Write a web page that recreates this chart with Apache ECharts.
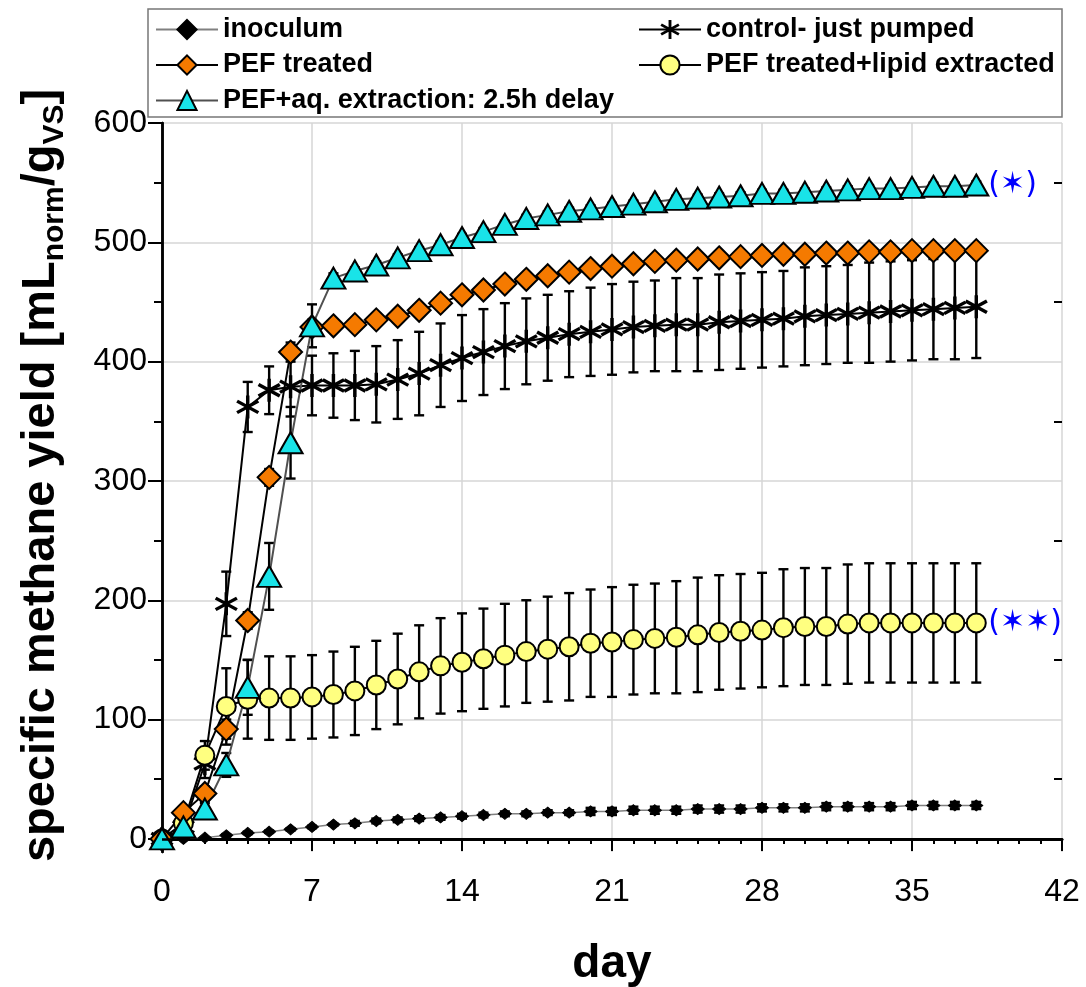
<!DOCTYPE html>
<html>
<head>
<meta charset="utf-8">
<script src="https://cdn.jsdelivr.net/npm/echarts@6/dist/echarts.min.js"></script>
<style>
html, body { margin: 0; padding: 0; background: #fff; }
#main { width: 1086px; height: 987px; }
</style>
</head>
<body>
<div id="main"></div>
<script>
// data (day, mL/g VS), errors are +/- half bar length
var days = [0,1,2,3,4,5,6,7,8,9,10,11,12,13,14,15,16,17,18,19,20,21,22,23,24,25,26,27,28,29,30,31,32,33,34,35,36,37,38];

var inoculum    = [0,0,1,3,5,6,8,10,12,13,15,16,17,18,19,20,21,21,22,22,23,23,24,24,24,25,25,25,26,26,26,27,27,27,27,28,28,28,28];
var inoculumErr = [0,0,0,1,1,1,1,1,1,2,2,2,2,2,2,2,2,2,2,2,3,3,3,3,3,3,3,3,3,3,3,3,3,3,3,3,3,3,3];

var control    = [0,10,63,197,362,376,379,380,380,380,381,385,390,397,403,408,413,417,420,423,425,427,429,430,431,431,433,434,435,436,438,439,440,441,442,443,444,445,446];
var controlErr = [0,3,12,27,21,20,25,25,27,29,32,33,35,35,36,36,36,36,36,36,37,38,38,38,39,39,40,40,40,40,41,41,41,42,42,42,42,43,43];

var pef    = [0,22,38,92,183,303,408,429,430,431,435,438,443,449,456,460,465,469,472,475,478,480,482,484,485,486,487,488,489,490,490,491,491,492,492,493,493,493,493];
var pefErr = [0,5,6,8,7,7,8,6,5,5,5,5,5,5,5,5,5,5,5,5,5,5,5,5,5,5,5,5,5,5,5,5,5,5,5,5,5,5,5];

var lipid    = [0,13,70,111,117,118,118,119,121,124,129,134,140,145,148,151,154,157,159,161,164,165,167,168,169,171,173,174,175,177,178,178,180,181,181,181,181,181,181];
var lipidErr = [0,5,12,32,33,35,35,35,36,37,37,38,39,40,41,42,43,43,44,45,45,46,46,46,47,48,48,48,48,49,49,49,50,50,50,50,50,50,50];

var aq    = [0,10,25,62,127,220,332,430,470,476,481,487,493,498,504,509,515,520,523,526,528,530,532,534,536,537,538,539,541,541,542,543,544,545,545,546,547,547,548];
var aqErr = [0,3,5,10,23,28,30,18,4,3,3,3,3,3,3,3,3,3,3,3,3,3,3,3,3,3,3,3,3,3,3,3,3,3,3,3,3,3,3];

var names = ['inoculum', 'control- just pumped', 'PEF treated', 'PEF treated+lipid extracted', 'PEF+aq. extraction: 2.5h delay'];
var yTicks = [0,100,200,300,400,500,600];
var yMinorTicks = [50,150,250,350,450,550];

var FONT = 'Liberation Sans';
var asterisk = 'path://M8.6,0L11.4,0L11.4,20L8.6,20Z M2.04,3.79L19.36,13.79L17.96,16.21L0.64,6.21Z M0.64,13.79L17.96,3.79L19.36,6.21L2.04,16.21Z';

function pts(vals) {
    return days.map(function (d, i) { return [d, vals[i]]; });
}
function errPts(vals, errs) {
    return days.map(function (d, i) { return [d, vals[i], errs[i]]; });
}
// error bar with caps
function errorBar(params, api) {
    var e = api.value(2);
    if (!e) return;
    var x = api.value(0), y = api.value(1);
    var hi = api.coord([x, y + e]);
    var lo = api.coord([x, y - e]);
    var w = 5;
    var st = { stroke: '#000', lineWidth: 2.4 };
    return {
        type: 'group',
        children: [
            { type: 'line', shape: { x1: hi[0], y1: hi[1], x2: lo[0], y2: lo[1] }, style: st },
            { type: 'line', shape: { x1: hi[0] - w, y1: hi[1], x2: hi[0] + w, y2: hi[1] }, style: st },
            { type: 'line', shape: { x1: lo[0] - w, y1: lo[1], x2: lo[0] + w, y2: lo[1] }, style: st }
        ]
    };
}
function errSeries(vals, errs) {
    return {
        type: 'custom',
        renderItem: errorBar,
        data: errPts(vals, errs),
        clip: false,
        silent: true
    };
}

var myChart = echarts.init(document.getElementById('main'), null, { renderer: 'canvas' });

var option = {
    animation: false,
    backgroundColor: '#fff',
    grid: { left: 162, right: 24, top: 123, bottom: 135, containLabel: false, outerBoundsMode: 'none' },
    graphic: [{
        type: 'rect',
        shape: { x: 148, y: 9, width: 914, height: 108 },
        style: { fill: 'none', stroke: '#777', lineWidth: 1.5 },
        z: 0
    }],
    legend: [{
        orient: 'vertical',
        left: 150, top: 11,
        itemWidth: 62, itemHeight: 24, itemGap: 8.5,
        textStyle: { fontFamily: FONT, fontWeight: 'bold', fontSize: 27, color: '#000' },
        data: [names[0], names[2], names[4]]
    }, {
        orient: 'vertical',
        left: 633, top: 11,
        itemWidth: 62, itemHeight: 24, itemGap: 8.5,
        textStyle: { fontFamily: FONT, fontWeight: 'bold', fontSize: 27, color: '#000' },
        data: [names[1], names[3]]
    }],
    xAxis: [{
        type: 'value',
        min: 0, max: 42, interval: 7,
        name: 'day',
        nameLocation: 'middle',
        nameGap: 89,
        nameTextStyle: { fontFamily: FONT, fontWeight: 'bold', fontSize: 46, color: '#000' },
        axisLine: { lineStyle: { color: '#000', width: 2.5 } },
        axisTick: { length: 12, lineStyle: { color: '#000', width: 2 } },
        minorTick: { show: true, splitNumber: 7, length: 5, lineStyle: { color: '#000', width: 2 } },
        axisLabel: { fontFamily: FONT, fontSize: 32, color: '#000', margin: 24 },
        splitLine: { show: true, lineStyle: { color: '#d6d6d6', width: 1.5 } }
    }, {
        type: 'value',
        position: 'top',
        min: 0, max: 42, interval: 7,
        axisLine: { lineStyle: { color: '#000', width: 3 } },
        axisTick: { show: false },
        axisLabel: { show: false },
        splitLine: { show: false }
    }],
    yAxis: [{
        type: 'value',
        min: -11, max: 600,
        name: '{b|specific methane yield [mL}{s|norm}{b|/g}{s|VS}{b|]}',
        nameLocation: 'middle',
        nameGap: 92,
        nameTextStyle: {
            padding: [0, 0, 0, 24],
            rich: {
                b: { fontFamily: FONT, fontWeight: 'bold', fontSize: 47, lineHeight: 58, color: '#000' },
                s: { fontFamily: FONT, fontWeight: 'bold', fontSize: 30, lineHeight: 30, verticalAlign: 'bottom', color: '#000' }
            }
        },
        axisLine: { lineStyle: { color: '#000', width: 2.5 } },
        axisTick: { customValues: yTicks, length: 14, lineStyle: { color: '#000', width: 2 } },
        axisLabel: { customValues: yTicks, fontFamily: FONT, fontSize: 32, color: '#000', margin: 15 },
        splitLine: { show: true, lineStyle: { color: '#d6d6d6', width: 1.5 } }
    }, {
        type: 'value',
        position: 'right',
        min: -11, max: 600,
        axisLine: { lineStyle: { color: '#000', width: 2.5 } },
        axisTick: { inside: true, customValues: yTicks, length: 14, lineStyle: { color: '#000', width: 2 } },
        axisLabel: { show: false },
        splitLine: { show: false }
    }, {
        type: 'value',
        position: 'left',
        min: -11, max: 600,
        axisLine: { show: false },
        axisTick: { customValues: yMinorTicks, length: 8, lineStyle: { color: '#000', width: 2 } },
        axisLabel: { show: false },
        splitLine: { show: false }
    }, {
        type: 'value',
        position: 'right',
        min: -11, max: 600,
        axisLine: { show: false },
        axisTick: { inside: true, customValues: yMinorTicks, length: 8, lineStyle: { color: '#000', width: 2 } },
        axisLabel: { show: false },
        splitLine: { show: false }
    }],
    series: [
        {
            name: names[0],
            type: 'line',
            data: pts(inoculum),
            symbol: 'diamond',
            symbolSize: [13, 11],
            clip: false,
            lineStyle: { color: '#808080', width: 1.5 },
            itemStyle: { color: '#000', borderColor: '#000', borderWidth: 1 },
            markLine: {
                silent: true,
                symbol: ['none', 'none'],
                label: { show: false },
                lineStyle: { color: '#000', width: 2.5, type: 'solid' },
                data: [{ yAxis: 0 }]
            }
        },
        errSeries(inoculum, inoculumErr),
        errSeries(control, controlErr),
        {
            name: names[1],
            type: 'line',
            data: pts(control),
            symbol: asterisk,
            symbolSize: 23,
            clip: false,
            lineStyle: { color: '#000', width: 2 },
            itemStyle: { color: '#000', borderWidth: 0 }
        },
        errSeries(lipid, lipidErr),
        {
            name: names[3],
            type: 'line',
            data: pts(lipid),
            symbol: 'circle',
            symbolSize: 19,
            clip: false,
            lineStyle: { color: '#000', width: 2 },
            itemStyle: { color: '#ffff80', borderColor: '#000', borderWidth: 2 },
            endLabel: {
                show: true,
                formatter: '(\u2736\u2736)',
                color: '#0000ff',
                fontFamily: 'DejaVu Sans',
                fontSize: 30,
                distance: 12
            }
        },
        {
            name: names[2],
            type: 'line',
            data: pts(pef),
            symbol: 'diamond',
            symbolSize: 23,
            clip: false,
            lineStyle: { color: '#000', width: 2 },
            itemStyle: { color: '#f57a00', borderColor: '#000', borderWidth: 2 }
        },
        errSeries(pef, pefErr),
        {
            name: names[4],
            type: 'line',
            data: pts(aq),
            symbol: 'triangle',
            symbolSize: [24, 21],
            clip: false,
            lineStyle: { color: '#505050', width: 2 },
            itemStyle: { color: '#19e3e8', borderColor: '#000', borderWidth: 2 },
            endLabel: {
                show: true,
                formatter: '(\u2736)',
                color: '#0000ff',
                fontFamily: 'DejaVu Sans',
                fontSize: 30,
                distance: 12
            }
        },
        errSeries(aq, aqErr),
        // small centre dots of the open markers
        {
            type: 'scatter', silent: true, symbolSize: 3, itemStyle: { color: '#000' }, data: pts(lipid)
        },
        {
            type: 'scatter', silent: true, symbolSize: 3, itemStyle: { color: '#000' }, data: pts(pef)
        },
        {
            type: 'scatter', silent: true, symbolSize: 3, itemStyle: { color: '#000' }, data: pts(aq)
        }
    ]
};

myChart.setOption(option);
</script>
</body>
</html>
